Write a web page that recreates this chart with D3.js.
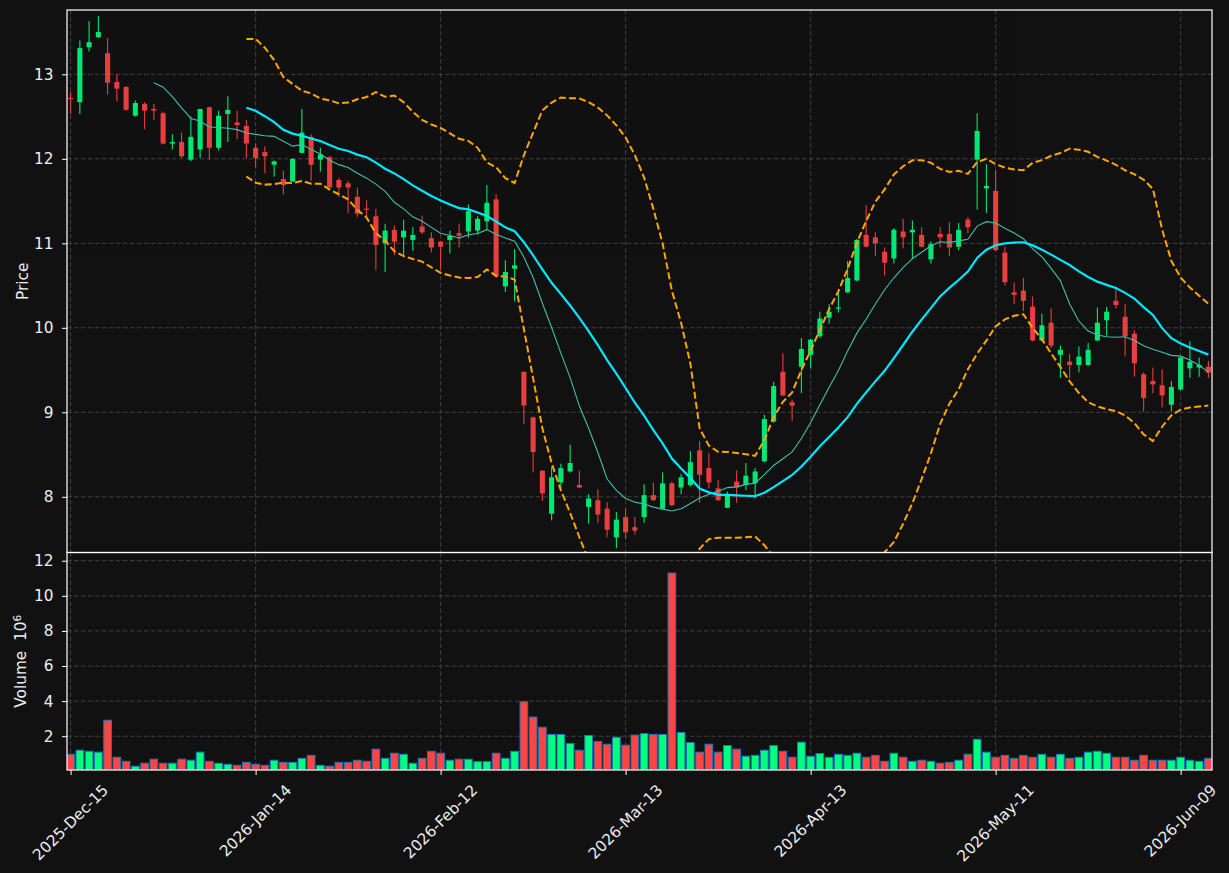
<!DOCTYPE html>
<html><head><meta charset="utf-8">
<script src="https://cdn.jsdelivr.net/npm/d3@7/dist/d3.min.js"></script>
<style>html,body{margin:0;padding:0;background:#111111;}svg{display:block;}</style>
</head><body>
<svg id="chart" width="1229" height="873"></svg>
<script>
// ---------------- data ----------------
const opens  = [12.72,12.67,13.32,13.44,13.25,12.91,12.85,12.51,12.65,12.59,12.54,12.18,12.20,11.99,12.11,12.61,12.13,12.53,12.43,12.39,
                12.13,12.08,11.93,11.76,11.73,12.07,12.26,11.99,12.02,11.75,11.71,11.55,11.41,11.32,11.00,11.16,11.07,11.04,11.20,11.06,
                11.02,11.04,11.12,11.14,11.15,11.26,11.52,10.49,10.70,9.48,8.94,8.31,7.80,8.17,8.30,8.14,7.88,7.96,7.86,7.52,
                7.76,7.64,7.76,8.02,7.86,8.16,8.11,8.14,8.55,8.34,8.10,7.87,8.18,8.14,8.16,8.42,8.89,9.48,9.12,9.54,
                9.68,9.90,10.12,10.23,10.42,10.56,11.10,11.07,10.90,10.82,11.14,11.13,11.10,10.81,11.11,11.11,10.96,11.28,11.99,11.65,
                11.62,10.89,10.42,10.44,10.25,9.85,10.06,9.68,9.60,9.56,9.56,9.85,10.09,10.32,10.13,9.93,9.45,9.37,9.32,9.09,
                9.27,9.52,9.53,9.54];
const highs  = [12.79,13.40,13.63,13.69,13.43,13.00,12.86,12.69,12.67,12.65,12.56,12.29,12.31,12.50,12.59,12.62,12.57,12.74,12.57,12.46,
                12.18,12.15,11.98,11.86,12.00,12.59,12.29,12.13,12.03,11.78,11.74,11.66,11.51,11.41,11.23,11.21,11.28,11.19,11.33,11.13,
                11.02,11.15,11.23,11.46,11.32,11.69,11.58,10.80,10.93,9.48,8.95,8.31,8.36,8.39,8.62,8.31,8.03,8.09,7.94,7.82,
                7.86,7.76,8.15,8.17,8.29,8.18,8.27,8.54,8.66,8.52,8.20,8.06,8.31,8.40,8.34,8.97,9.36,9.70,9.15,9.88,
                9.87,10.19,10.28,10.43,10.79,11.05,11.45,11.13,10.95,11.18,11.29,11.27,11.19,11.02,11.19,11.25,11.24,11.31,12.54,11.94,
                11.87,10.96,10.54,10.59,10.37,10.17,10.23,9.79,9.69,9.78,9.82,10.24,10.25,10.47,10.28,9.97,9.47,9.53,9.51,9.37,
                9.65,9.84,9.65,9.61];
const lows   = [12.53,12.53,13.27,13.43,12.76,12.68,12.57,12.50,12.35,12.46,12.17,12.11,12.01,11.97,12.01,11.99,12.10,12.20,12.23,12.01,
                11.90,11.83,11.79,11.58,11.73,12.07,11.74,11.85,11.66,11.55,11.36,11.31,11.32,10.68,10.66,10.86,10.86,10.91,11.11,10.89,
                10.69,10.88,10.95,11.07,11.10,11.16,10.59,10.42,10.31,8.86,8.29,7.95,7.72,8.10,8.29,8.10,7.68,7.69,7.52,7.39,
                7.50,7.55,7.69,7.95,7.85,7.89,8.03,8.12,7.93,8.10,7.95,7.87,7.93,8.08,7.98,8.41,8.88,9.19,8.90,9.23,
                9.52,9.88,10.05,10.18,10.41,10.55,10.95,10.85,10.62,10.76,10.94,10.82,10.95,10.76,10.95,10.85,10.92,11.12,11.40,11.36,
                10.91,10.50,10.28,10.20,9.84,9.84,9.76,9.41,9.40,9.47,9.55,9.84,9.91,10.23,9.66,9.42,9.01,9.23,9.06,9.01,
                9.26,9.41,9.42,9.41];
const closes = [12.71,13.31,13.38,13.50,12.90,12.83,12.58,12.66,12.57,12.57,12.18,12.20,12.03,12.26,12.59,12.13,12.51,12.58,12.40,12.18,
                12.01,12.03,11.97,11.69,12.00,12.31,11.93,12.05,11.66,11.66,11.66,11.35,11.40,10.98,11.15,11.02,11.15,11.10,11.13,10.95,
                10.96,11.09,11.09,11.38,11.29,11.48,10.61,10.66,10.74,9.08,8.53,8.04,8.23,8.34,8.40,8.11,7.98,7.79,7.61,7.73,
                7.58,7.60,8.02,7.96,8.16,7.90,8.23,8.41,8.26,8.17,7.96,8.02,8.11,8.25,8.30,8.92,9.31,9.20,9.08,9.75,
                9.86,10.11,10.19,10.24,10.59,11.04,10.96,11.00,10.77,11.16,11.07,11.16,10.96,10.99,11.07,10.95,11.16,11.19,12.33,11.68,
                10.92,10.54,10.39,10.32,9.85,10.03,9.79,9.74,9.56,9.66,9.74,10.06,10.19,10.27,9.90,9.58,9.17,9.33,9.20,9.30,
                9.65,9.60,9.56,9.47];
const volumes = [0.97,1.20,1.14,1.09,2.91,0.80,0.57,0.29,0.46,0.69,0.46,0.46,0.69,0.63,1.09,0.57,0.46,0.40,0.34,0.51,
                 0.40,0.34,0.63,0.51,0.51,0.74,0.91,0.34,0.29,0.51,0.51,0.63,0.57,1.26,0.74,1.03,0.97,0.46,0.74,1.14,
                 1.03,0.63,0.69,0.69,0.55,0.55,1.03,0.74,1.14,3.96,3.09,2.51,2.10,2.10,1.58,1.20,2.04,1.70,1.54,1.94,
                 1.49,2.06,2.15,2.10,2.10,11.30,2.21,1.64,1.09,1.54,1.09,1.47,1.26,0.86,0.91,1.20,1.47,1.14,0.80,1.66,
                 0.86,1.01,0.80,0.97,0.91,1.03,0.80,0.91,0.57,1.03,0.80,0.57,0.63,0.57,0.46,0.51,0.63,0.97,1.83,1.09,
                 0.80,0.91,0.74,0.91,0.80,0.97,0.80,0.97,0.74,0.80,1.09,1.14,1.03,0.80,0.80,0.63,0.91,0.63,0.63,0.63,
                 0.80,0.63,0.57,0.74]; // x 10^6
const tickIndex  = [0,20,40,60,80,100,120];
const tickLabels = ["2025-Dec-15","2026-Jan-14","2026-Feb-12","2026-Mar-13","2026-Apr-13","2026-May-11","2026-Jun-09"];
const priceTicks  = [8,9,10,11,12,13];
const volumeTicks = [2,4,6,8,10,12];
const maShort = 10, maLong = 20, bandK = 2;

// ---------------- indicators ----------------
function sma(arr, n){ return arr.map((_,i)=> i<n-1 ? null : d3.mean(arr.slice(i-n+1,i+1))); }
function band(arr, n, k, sign){
  return arr.map((_,i)=>{
    if(i<n-1) return null;
    const w = arr.slice(i-n+1,i+1), m = d3.mean(w);
    const sd = Math.sqrt(d3.mean(w.map(v=>(v-m)*(v-m))));
    return m + sign*k*sd;
  });
}
const ma10 = sma(closes, maShort);
const ma20 = sma(closes, maLong);
const upper = band(closes, maLong, bandK, 1);
const lower = band(closes, maLong, bandK, -1);

// ---------------- layout ----------------
const L = 67, R = 1212, PT = 10, PB = 552.5, VT = 552.5, VB = 770;
const UP = "#00ff7f", DN = "#ff4444", TXT = "#eeeeee", GRID = "#464646";
const FONT = "'DejaVu Sans', sans-serif", FS = "15.3px";
const n = closes.length;

const svg = d3.select("#chart");
svg.append("rect").attr("width",1229).attr("height",873).attr("fill","#111111");

const x = d3.scaleLinear().domain([-0.39, n-1+0.39]).range([L, R]);
const step = x(1)-x(0);
const y = d3.scaleLinear().domain([7.341, 13.761]).range([PB, PT]);
const yv = d3.scaleLinear().domain([0.074, 12.47]).range([VB, VT]);

const defs = svg.append("defs");
defs.append("clipPath").attr("id","cp").append("rect").attr("x",L).attr("y",PT).attr("width",R-L).attr("height",PB-PT);
defs.append("clipPath").attr("id","cv").append("rect").attr("x",L).attr("y",VT).attr("width",R-L).attr("height",VB-VT);

// grids
const grid = svg.append("g").attr("stroke",GRID).attr("stroke-width",0.9).attr("stroke-dasharray","4.5,2.5");
priceTicks.forEach(t=>grid.append("line").attr("x1",L).attr("x2",R).attr("y1",y(t)).attr("y2",y(t)));
volumeTicks.forEach(t=>grid.append("line").attr("x1",L).attr("x2",R).attr("y1",yv(t)).attr("y2",yv(t)));
tickIndex.forEach(t=>{
  grid.append("line").attr("x1",x(t)).attr("x2",x(t)).attr("y1",PT).attr("y2",PB);
  grid.append("line").attr("x1",x(t)).attr("x2",x(t)).attr("y1",VT).attr("y2",VB);
});

// candles
const gp = svg.append("g").attr("clip-path","url(#cp)");
const bodyW = step*0.55;
const cg = gp.append("g").attr("opacity",0.9);
d3.range(n).forEach(i=>{
  const col = closes[i] >= opens[i] ? UP : DN;
  cg.append("line").attr("x1",x(i)).attr("x2",x(i)).attr("y1",y(highs[i])).attr("y2",y(lows[i]))
    .attr("stroke",col).attr("stroke-width",1.1);
  const top = y(Math.max(opens[i],closes[i])), bot = y(Math.min(opens[i],closes[i]));
  cg.append("rect").attr("x",x(i)-bodyW/2).attr("y",top).attr("width",bodyW).attr("height",Math.max(1.2,bot-top)).attr("fill",col);
});

// lines
const line = d3.line().defined(d=>d!=null).x((d,i)=>x(i)).y(d=>y(d));
gp.append("path").attr("d",line(upper)).attr("fill","none").attr("stroke","#ffa500").attr("stroke-width",2).attr("stroke-dasharray","7,3.2");
gp.append("path").attr("d",line(lower)).attr("fill","none").attr("stroke","#ffa500").attr("stroke-width",2).attr("stroke-dasharray","7,3.2");
gp.append("path").attr("d",line(ma10)).attr("fill","none").attr("stroke","#3fbfae").attr("stroke-width",1.1);
gp.append("path").attr("d",line(ma20)).attr("fill","none").attr("stroke","#00e8ff").attr("stroke-width",2.2);

// volume bars
const gv = svg.append("g").attr("clip-path","url(#cv)");
const barW = step*0.83;
d3.range(n).forEach(i=>{
  const col = closes[i] >= opens[i] ? UP : DN;
  gv.append("rect").attr("x",x(i)-barW/2).attr("y",yv(volumes[i])).attr("width",barW)
    .attr("height",yv(0)-yv(volumes[i])).attr("fill",col).attr("stroke","#1f77b4").attr("stroke-width",1);
});

// axes
function styleAxis(g){
  g.select(".domain").remove();
  g.selectAll(".tick line").attr("stroke","#ffffff").attr("stroke-width",1);
  g.selectAll(".tick text").attr("fill",TXT).style("font-family",FONT).style("font-size",FS);
}
svg.append("g").attr("transform",`translate(${L},0)`)
  .call(d3.axisLeft(y).tickValues(priceTicks).tickFormat(d3.format("d")).tickSize(5).tickPadding(8.5)).call(styleAxis);
svg.append("g").attr("transform",`translate(${L},0)`)
  .call(d3.axisLeft(yv).tickValues(volumeTicks).tickFormat(d3.format("d")).tickSize(5).tickPadding(8.5)).call(styleAxis);
const xa = svg.append("g").attr("transform",`translate(0,${VB})`)
  .call(d3.axisBottom(x).tickValues(tickIndex).tickFormat("").tickSize(5)).call(styleAxis);

// rotated date labels
const lg = svg.append("g");
tickIndex.forEach((t,k)=>{
  const tx = lg.append("text").text(tickLabels[k]).attr("fill",TXT).style("font-family",FONT).style("font-size",FS)
    .attr("text-anchor","middle").attr("dominant-baseline","central");
  const len = tx.node().getComputedTextLength();
  const h = 15.3*1.05;
  const halfH = (len*Math.SQRT1_2 + h*Math.SQRT1_2)/2;
  const cx = x(t), cy = 782 + halfH;
  tx.attr("x",cx).attr("y",cy).attr("transform",`rotate(-45,${cx},${cy})`);
});

// frames
svg.append("rect").attr("x",L).attr("y",PT).attr("width",R-L).attr("height",PB-PT).attr("fill","none").attr("stroke","#ffffff").attr("stroke-width",1.2);
svg.append("rect").attr("x",L).attr("y",VT).attr("width",R-L).attr("height",VB-VT).attr("fill","none").attr("stroke","#ffffff").attr("stroke-width",1.2);

// axis labels
svg.append("text").attr("transform",`translate(27.7,${(PT+PB)/2}) rotate(-90)`).attr("text-anchor","middle")
  .attr("fill",TXT).style("font-family",FONT).style("font-size",FS).text("Price");
const vl = svg.append("text").attr("transform",`translate(25.7,${(VT+VB)/2}) rotate(-90)`).attr("text-anchor","middle")
  .attr("fill",TXT).style("font-family",FONT).style("font-size",FS);
vl.append("tspan").text("Volume\u00a0\u00a010");
vl.append("tspan").attr("dy","-0.45em").style("font-size","10.7px").text("6");
</script>
</body></html>
